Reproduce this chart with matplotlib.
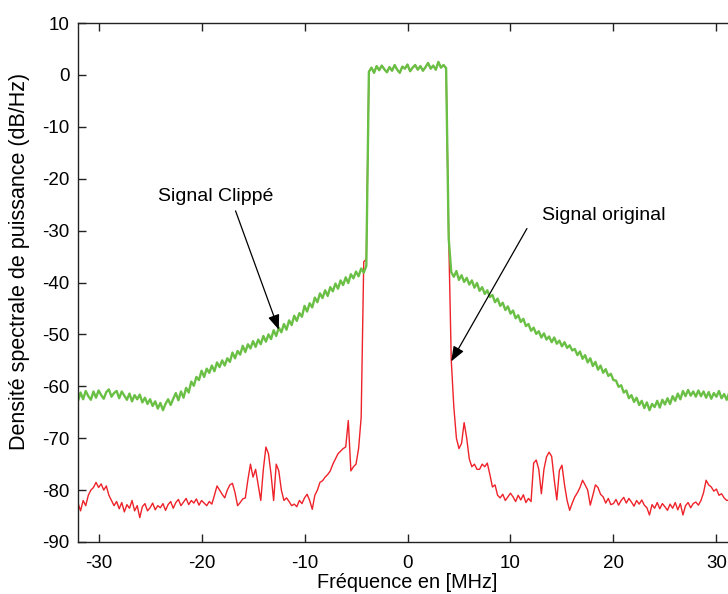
import numpy as np
import matplotlib
matplotlib.use("Agg")
import matplotlib.pyplot as plt

plt.rcParams['font.family'] = ['Liberation Sans', 'DejaVu Sans']
plt.rcParams['axes.unicode_minus'] = False

# Frequency grid (MHz), 0.25 MHz steps from -32 to 32
freq = np.linspace(-32, 32, 257)

# Clipped signal PSD (dB/Hz)
clipped_left = [
    -62.8, -61.2, -62.5, -60.9, -61.9, -62.6, -61.0, -62.2, -60.8, -61.7, -62.4, -61.1, -60.6, -62.0, -61.3, -60.9,
    -62.3, -61.0, -61.8, -62.6, -61.4, -62.9, -61.7, -62.5, -61.6, -63.1, -62.2, -63.4, -62.5, -63.8, -62.9, -64.3,
    -63.2, -64.6, -63.4, -62.5, -63.6, -62.4, -61.3, -62.7, -61.0, -62.2, -60.3, -61.2, -59.1, -59.9, -58.2, -58.8,
    -57.0, -58.2, -56.6, -57.4, -56.0, -57.1, -55.4, -56.3, -55.0, -56.0, -54.6, -55.3, -53.5, -54.6, -53.2, -53.9,
    -52.2, -53.4, -51.9, -52.7, -51.3, -52.4, -51.0, -51.9, -50.3, -51.4, -50.0, -50.9, -49.2, -50.3, -48.7, -49.6,
    -48.0, -49.1, -47.3, -48.2, -46.4, -47.4, -45.9, -46.6, -44.5, -45.6, -44.0, -44.8, -42.9, -43.8, -42.1, -43.0,
    -41.5, -42.6, -40.9, -41.7, -40.2, -41.2, -39.6, -40.5, -39.0, -40.1, -38.4, -39.2, -37.9, -38.8, -37.3, -38.1,
    -36.8,
]
clipped_band = [
    0.6, 1.4, 0.4, 1.7, 0.9, 1.8, 1.1, 0.5, 1.5, 0.8, 1.9, 1.0, 0.4, 1.6, 1.2, 2.0,
    0.7, 1.4, 1.9, 1.0, 1.7, 0.8, 1.5, 2.3, 1.2, 1.8, 1.0, 2.5, 1.4, 1.9, 1.3,
]
clipped_right = [
    -31.5,
    -38.0, -38.9, -37.8, -39.5, -38.6, -39.9, -39.1, -40.4, -39.6, -41.0, -40.1, -41.6, -40.9, -42.2, -41.5, -42.8,
    -42.4, -43.8, -43.1, -44.5, -43.9, -45.3, -44.6, -46.0, -45.4, -46.9, -46.3, -47.6, -47.0, -48.4, -48.0, -49.3,
    -48.7, -49.9, -49.4, -50.6, -49.8, -51.0, -50.4, -51.5, -50.6, -51.8, -51.2, -52.3, -51.5, -52.6, -52.1, -53.1,
    -52.8, -54.0, -53.3, -54.7, -54.0, -55.4, -54.6, -56.1, -55.3, -56.8, -56.0, -57.4, -56.7, -58.0, -57.6, -58.8,
    -58.9, -60.1, -59.8, -61.2, -60.8, -62.3, -61.7, -63.0, -62.2, -63.6, -62.8, -64.2, -63.1, -64.6, -63.4, -64.0,
    -62.8, -64.1, -62.6, -63.5, -62.3, -63.4, -61.9, -62.8, -61.4, -62.5, -60.9, -61.9, -60.7, -61.8, -61.0, -62.0,
    -60.8, -61.9, -61.0, -62.2, -61.1, -62.4, -61.3, -62.0, -60.9, -62.3, -61.5, -62.6, -61.2, -62.4, -61.7, -62.6,
]

# Original signal PSD (dB/Hz)
original_left = [
    -82.5, -84.0, -82.0, -83.0, -81.0, -80.0, -79.5, -78.5, -79.5, -78.8, -80.0, -79.2, -81.0, -82.0, -83.0, -82.2,
    -83.6, -82.4, -84.2, -82.8, -83.5, -82.0, -84.0, -83.0, -85.3, -83.2, -82.6, -84.0, -83.4, -82.5, -83.8, -83.0,
    -83.4, -82.6, -83.9, -82.8, -82.2, -83.5, -82.4, -81.8, -83.0, -82.3, -81.6, -82.8, -82.0, -82.5, -81.7, -82.9,
    -82.0, -82.5, -83.0, -82.2, -82.7, -81.0, -79.2, -80.0, -80.8, -81.5, -80.0, -79.0, -78.7, -80.5, -83.0, -82.4,
    -81.7, -81.5, -78.0, -75.0, -77.5, -76.0, -79.0, -82.0, -76.0, -71.7, -73.0, -77.0, -82.0, -75.0, -76.3, -80.0,
    -82.0, -81.5, -82.2, -83.0, -82.7, -83.2, -82.0, -82.6, -81.5, -80.8, -82.0, -83.7, -81.0, -80.0, -78.5, -78.2,
    -77.5, -77.0, -76.3, -75.0, -74.0, -73.0, -72.5, -72.0, -71.7, -66.6, -76.3, -75.5, -75.0, -72.0, -66.0, -36.0,
    -35.5,
]
original_band = [
    0.6, 1.4, 0.4, 1.7, 0.9, 1.8, 1.1, 0.5, 1.5, 0.8, 1.9, 1.0, 0.4, 1.6, 1.2, 2.0,
    0.7, 1.4, 1.9, 1.0, 1.7, 0.8, 1.5, 2.3, 1.2, 1.8, 1.0, 2.5, 1.4, 1.9, 1.3,
]
original_right = [
    -31.0,
    -55.0, -64.0, -70.0, -72.0, -71.0, -67.0, -70.0, -74.0, -75.5, -75.0, -76.0, -76.0, -75.0, -75.5, -74.8, -77.0,
    -79.4, -79.0, -81.0, -81.5, -80.8, -82.0, -81.3, -80.6, -81.3, -82.2, -81.0, -81.9, -80.9, -82.4, -81.6, -82.2,
    -74.8, -74.2, -76.0, -80.7, -76.0, -73.6, -72.7, -73.5, -78.0, -81.9, -76.2, -75.2, -79.0, -82.0, -83.9, -82.5,
    -81.3, -80.5, -79.5, -78.1, -79.0, -80.0, -82.9, -81.0, -79.0, -79.5, -80.8, -81.3, -82.5, -81.6, -82.8, -82.6,
    -81.8, -82.9, -82.0, -81.4, -82.5, -81.6, -82.3, -83.1, -82.0, -82.7, -81.9, -82.9, -83.4, -84.8, -82.8, -83.5,
    -82.4, -83.6, -82.6, -83.2, -83.9, -82.7, -83.5, -82.4, -83.8, -82.6, -84.8, -83.0, -82.4, -83.4, -82.6, -82.3,
    -82.9, -82.0, -80.5, -78.1, -79.0, -79.4, -80.2, -79.8, -81.0, -80.7, -81.5, -82.0, -81.9, -82.6, -82.2, -82.8,
]

clipped = np.array(clipped_left + clipped_band + clipped_right)
original = np.array(original_left + original_band + original_right)

xticks = [-30, -20, -10, 0, 10, 20, 30]
yticks = [10, 0, -10, -20, -30, -40, -50, -60, -70, -80, -90]

W, H = 728, 594
fig = plt.figure(figsize=(W / 100, H / 100), dpi=100)
ax = fig.add_axes([78 / W, (H - 542) / H, (737 - 78) / W, (542 - 23) / H])

ax.plot(freq, original, color='#ee2229', lw=1.0)
ax.plot(freq, clipped, color='#6abf45', lw=1.7)

ax.set_xlim(-32, 32)
ax.set_ylim(-90, 10)
ax.set_xticks(xticks)
ax.set_yticks(yticks)
ax.tick_params(axis='both', direction='in', length=6, width=1, top=True, right=True,
               labelsize=13.5, color='#222222')
ax.tick_params(axis='x', pad=9)
ax.tick_params(axis='y', pad=6)
for s in ax.spines.values():
    s.set_linewidth(1.0)
    s.set_color('#222222')

ax.set_xlabel('Fréquence en [MHz]', fontsize=14.3, labelpad=1)
ax.set_ylabel('Densité spectrale de puissance (dB/Hz)', fontsize=15.5)
ax.yaxis.set_label_coords(-0.073, 0.54)

arrow = dict(arrowstyle='-|>,head_length=0.9,head_width=0.35', color='black',
             lw=0.9, shrinkA=0, shrinkB=0)
ax.text(-18.6, -23.5, 'Signal Clippé', fontsize=14, ha='center', va='center')
ax.annotate('', xy=(-12.5, -49.1), xytext=(-16.7, -26.2), arrowprops=arrow)
ax.text(19.1, -27.0, 'Signal original', fontsize=14, ha='center', va='center')
ax.annotate('', xy=(4.25, -55.2), xytext=(11.6, -29.6), arrowprops=arrow)

fig.savefig('out.png', dpi=100)
